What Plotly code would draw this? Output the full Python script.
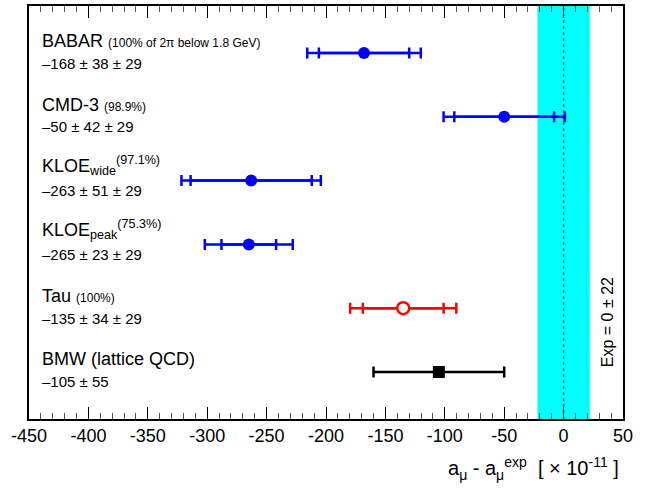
import math
import plotly.graph_objects as go

# ---- data ----
names = ["BABAR", "CMD-3", "KLOE<sub>wide</sub>", "KLOE<sub>peak</sub>", "Tau", "BMW (lattice QCD)"]
notes = ["(100% of 2π below 1.8 GeV)", "(98.9%)", "(97.1%)", "(75.3%)", "(100%)", ""]
values = [-168, -50, -263, -265, -135, -105]
err_exp = [38, 42, 51, 23, 34, 55]
err_th = [29, 29, 29, 29, 29, 0]
rows = [6, 5, 4, 3, 2, 1]
colors = ["#0000ff", "#0000ff", "#0000ff", "#0000ff", "#ff0000", "#000000"]
exp_value = 0
exp_err = 22
tick_vals = [-450, -400, -350, -300, -250, -200, -150, -100, -50, 0, 50]
tick_text = ["-450", "-400", "-350", "-300", "-250", "-200", "-150", "-100", "-50", "0", "50"]

FONT = "Liberation Sans, Arial, Helvetica, sans-serif"

fig = go.Figure()

fig.add_shape(type="rect", xref="x", yref="paper", x0=exp_value - exp_err, x1=exp_value + exp_err,
              y0=0, y1=1, fillcolor="#00ffff", line=dict(width=0), layer="below")
fig.add_shape(type="line", xref="x", yref="paper", x0=exp_value, x1=exp_value, y0=0, y1=1,
              line=dict(color="#1a5f5f", width=1.5, dash="dot"), layer="below")

for i in range(len(values)):
    v, e1, e2, y, c = values[i], err_exp[i], err_th[i], rows[i], colors[i]
    tot = math.sqrt(e1 ** 2 + e2 ** 2)
    # outer (total) error bar
    fig.add_trace(go.Scatter(
        x=[v], y=[y], mode="markers",
        marker=dict(size=1, color=c, opacity=0),
        error_x=dict(type="constant", value=tot, color=c, thickness=2.5, width=5.5),
        showlegend=False, hoverinfo="skip"))
    if e2 > 0:
        # inner error bar
        fig.add_trace(go.Scatter(
            x=[v], y=[y], mode="markers",
            marker=dict(size=1, color=c, opacity=0),
            error_x=dict(type="constant", value=e1, color=c, thickness=2.5, width=5.5),
            showlegend=False, hoverinfo="skip"))
    if i == 4:
        mk = dict(symbol="circle", size=12, color="white", line=dict(color=c, width=2.5))
    elif i == 5:
        mk = dict(symbol="square", size=12, color=c)
    else:
        mk = dict(symbol="circle", size=12, color=c)
    fig.add_trace(go.Scatter(x=[v], y=[y], mode="markers", marker=mk,
                             showlegend=False, hoverinfo="skip"))

    # labels
    if "<sub>" in names[i]:
        name_txt = names[i] + "<sup>" + notes[i] + "</sup>"
        nshift = 15
    elif notes[i]:
        name_txt = names[i] + " <span style='font-size:12px'>" + notes[i] + "</span>"
        nshift = 12
    else:
        name_txt = names[i]
        nshift = 13
    fig.add_annotation(x=-441, y=y, xref="x", yref="y", text=name_txt, showarrow=False,
                       xanchor="left", yanchor="middle", yshift=nshift,
                       font=dict(size=18, color="black", family=FONT))
    val_txt = "\u2013%d \u00b1 %d" % (abs(v), e1)
    if e2 > 0:
        val_txt += " \u00b1 %d" % e2
    fig.add_annotation(x=-441, y=y, xref="x", yref="y", text=val_txt, showarrow=False,
                       xanchor="left", yanchor="middle", yshift=-10,
                       font=dict(size=15, color="black", family=FONT))

fig.add_annotation(x=36.5, y=1.78, xref="x", yref="y", text="Exp = %d \u00b1 %d" % (exp_value, exp_err),
                   textangle=-90, showarrow=False, font=dict(size=16, color="black", family=FONT))

fig.add_annotation(x=0.997, y=-0.119, xref="paper", yref="paper", xanchor="right", yanchor="middle",
                   text="a<sub>μ</sub> - a<sub>μ</sub><sup>exp</sup>  [ × 10<sup>-11</sup> ]",
                   showarrow=False, font=dict(size=20, color="black", family=FONT))

fig.update_layout(
    width=657, height=494,
    margin=dict(l=29, r=34, t=6, b=75),
    plot_bgcolor="white", paper_bgcolor="white",
    font=dict(family=FONT, color="black"),
    xaxis=dict(range=[-450, 50], tickmode="array", tickvals=tick_vals, ticktext=tick_text,
               ticks="inside", ticklen=12, tickwidth=1, automargin=False,
               tickcolor="black", showline=True, linecolor="black", linewidth=1.5, mirror="ticks",
               showgrid=False, zeroline=False, tickfont=dict(size=18, family=FONT),
               minor=dict(dtick=10, tick0=0, ticks="inside", ticklen=6, tickcolor="#555555", tickwidth=1)),
    yaxis=dict(range=[0.263, 6.737], showticklabels=False, ticks="", showline=True, automargin=False,
               linecolor="black", linewidth=1.5, mirror=True, showgrid=False, zeroline=False),
)

fig.write_html("out.html", config={"displayModeBar": False},
               post_script="document.body.style.margin='0';document.body.style.padding='0';")
